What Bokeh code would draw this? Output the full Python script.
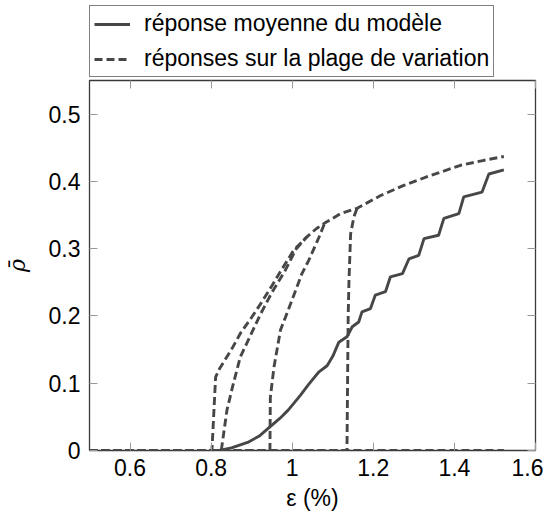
from bokeh.plotting import figure
from bokeh.layouts import column
from bokeh.models import LinearAxis, FixedTicker, Legend, LegendItem, Range1d
from bokeh.embed import file_html
from bokeh.resources import INLINE

# ---- data ----
eps_mean = [0.80, 0.82, 0.85, 0.89, 0.92, 0.945, 0.97, 0.99, 1.02, 1.04, 1.066, 1.086,
            1.10, 1.115, 1.135, 1.148, 1.164, 1.172, 1.193, 1.205, 1.23, 1.242, 1.272,
            1.288, 1.312, 1.325, 1.361, 1.374, 1.411, 1.423, 1.468, 1.485, 1.522]
rho_mean = [0.0, 0.0, 0.004, 0.012, 0.022, 0.035, 0.048, 0.060, 0.082, 0.098, 0.117, 0.126,
            0.140, 0.161, 0.169, 0.184, 0.191, 0.206, 0.211, 0.231, 0.236, 0.258, 0.263,
            0.285, 0.290, 0.315, 0.320, 0.345, 0.352, 0.377, 0.384, 0.411, 0.417]

# shared upper branch of the variation curves (drawn once, with curve A)
env_eps = [1.08, 1.119, 1.16, 1.218, 1.275, 1.333, 1.415, 1.47, 1.522]
env_rho = [0.338, 0.352, 0.360, 0.379, 0.394, 0.407, 0.424, 0.431, 0.437]

eps_a = [0.50, 0.802, 0.811, 0.821, 0.85, 0.872, 0.90, 0.922, 0.95, 0.971, 1.004, 1.037, 1.060] + env_eps
rho_a = [0.0, 0.0, 0.109, 0.122, 0.150, 0.174, 0.198, 0.218, 0.245, 0.266, 0.298, 0.318, 0.330] + env_rho

eps_b = [0.50, 0.825, 0.839, 0.855, 0.872, 0.90, 0.922, 0.95, 0.983, 1.01, 1.037]
rho_b = [0.0, 0.0, 0.060, 0.100, 0.139, 0.175, 0.203, 0.235, 0.268, 0.300, 0.318]

eps_c = [0.50, 0.945, 0.946, 0.955, 0.971, 0.996, 1.024, 1.041, 1.066, 1.08]
rho_c = [0.0, 0.0, 0.079, 0.124, 0.179, 0.218, 0.263, 0.283, 0.317, 0.338]

eps_d = [0.50, 1.135, 1.138, 1.140, 1.144, 1.152, 1.16]
rho_d = [0.0, 0.0, 0.20, 0.253, 0.322, 0.347, 0.360]

eps_e = [0.50, 1.522]
rho_e = [0.0, 0.0]

x_ticks = [0.6, 0.8, 1.0, 1.2, 1.4, 1.6]
x_tick_labels = ["0.6", "0.8", "1", "1.2", "1.4", "1.6"]
y_ticks = [0.0, 0.1, 0.2, 0.3, 0.4, 0.5]
y_tick_labels = ["0", "0.1", "0.2", "0.3", "0.4", "0.5"]

label_mean = "réponse moyenne du modèle"
label_range = "réponses sur la plage de variation"
x_label = "ε (%)"
y_label = "ρ̄"

# ---- styles ----
FONT = "Liberation Sans"
LINE = "#474747"
TICK = "#9a9a9a"
FS = "23px"
DASH = "8 4"
LW = 2.9

p = figure(frame_width=446, frame_height=370,
           x_range=Range1d(0.5, 1.6), y_range=Range1d(0.0, 0.55),
           output_backend="svg", toolbar_location=None,
           min_border_left=89, min_border_top=2, min_border_right=8, min_border_bottom=10)
p.xgrid.visible = False
p.ygrid.visible = False
p.outline_line_color = "#3a3a3a"
p.outline_line_width = 1.3
p.background_fill_color = "white"
p.border_fill_color = "white"

p.line(eps_mean, rho_mean, line_color=LINE, line_width=LW)
p.line(eps_e, rho_e, line_color=LINE, line_width=LW, line_dash=DASH)
p.line(eps_d, rho_d, line_color=LINE, line_width=LW, line_dash=DASH)
p.line(eps_c, rho_c, line_color=LINE, line_width=LW, line_dash=DASH)
p.line(eps_b, rho_b, line_color=LINE, line_width=LW, line_dash=DASH)
p.line(eps_a, rho_a, line_color=LINE, line_width=LW, line_dash=DASH)


def style_axis(ax, ticks, labels):
    ax.ticker = FixedTicker(ticks=ticks)
    ax.major_label_overrides = dict(zip(ticks, labels))
    ax.major_tick_in = 8
    ax.major_tick_out = 0
    ax.major_tick_line_color = TICK
    ax.major_tick_line_width = 1
    ax.minor_tick_line_color = None
    ax.axis_line_color = None
    ax.major_label_text_font = FONT
    ax.major_label_text_font_size = FS
    ax.major_label_text_color = "black"


xa = p.xaxis[0]
ya = p.yaxis[0]
style_axis(xa, x_ticks, x_tick_labels)
style_axis(ya, y_ticks, y_tick_labels)
xa.major_label_standoff = 8
ya.major_label_standoff = 9
xa.axis_label = x_label
xa.axis_label_text_font = FONT
xa.axis_label_text_font_size = FS
xa.axis_label_text_font_style = "normal"
xa.axis_label_text_color = "black"
xa.axis_label_standoff = 6
ya.axis_label = y_label
ya.axis_label_text_font = "DejaVu Serif"
ya.axis_label_text_font_size = "22px"
ya.axis_label_text_font_style = "italic"
ya.axis_label_text_color = "black"
ya.axis_label_standoff = 16

top_ax = LinearAxis()
style_axis(top_ax, x_ticks, [""] * len(x_ticks))
top_ax.major_label_standoff = 0
top_ax.major_label_text_font_size = "1px"
p.add_layout(top_ax, "above")
right_ax = LinearAxis()
style_axis(right_ax, y_ticks, [""] * len(y_ticks))
p.add_layout(right_ax, "right")

# ---- legend, drawn in its own strip above the axes ----
# (its sample lines reuse the series but lie outside this strip's ranges)
pl = figure(width=551, height=78, x_range=Range1d(0, 1), y_range=Range1d(10, 11),
            output_backend="svg", toolbar_location=None, min_border=0,
            x_axis_type=None, y_axis_type=None)
pl.xgrid.visible = False
pl.ygrid.visible = False
pl.outline_line_color = None
pl.border_fill_color = "white"
lr_mean = pl.line(eps_mean, rho_mean, line_color=LINE, line_width=LW)
lr_range = pl.line(eps_e, rho_e, line_color=LINE, line_width=LW, line_dash=DASH)

legend = Legend(items=[LegendItem(label=label_mean, renderers=[lr_mean]),
                       LegendItem(label=label_range, renderers=[lr_range])],
                location=(0, 1))
legend.label_text_font = FONT
legend.label_text_font_size = FS
legend.label_text_color = "black"
legend.glyph_width = 36
legend.glyph_height = 20
legend.label_height = 20
legend.label_standoff = 14
legend.padding = 4
legend.spacing = 8
legend.margin = 0
legend.border_line_color = "black"
legend.border_line_width = 1
legend.background_fill_alpha = 1.0
pl.add_layout(legend, "center")

layout = column(pl, p, spacing=0)
open("out.html", "w").write(file_html(layout, INLINE))
